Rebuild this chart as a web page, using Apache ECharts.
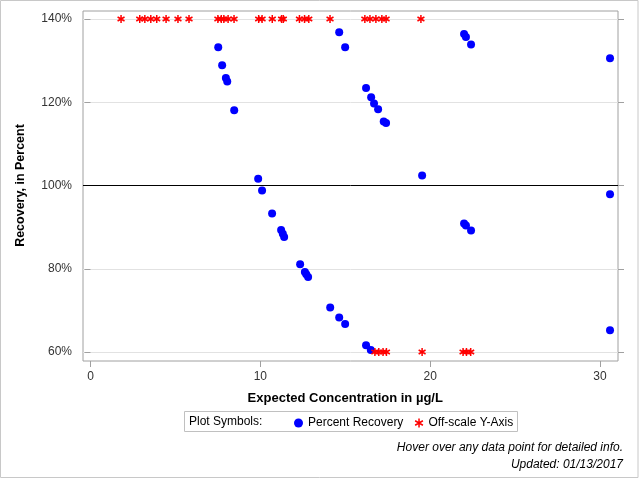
<!DOCTYPE html>
<html>
<head>
<meta charset="utf-8">
<title>Percent Recovery</title>
<script src="https://cdn.jsdelivr.net/npm/echarts@6/dist/echarts.min.js"></script>
<style>
  html, body { margin: 0; padding: 0; background: #fff; }
  #chart { width: 640px; height: 480px; }
</style>
</head>
<body>
<div id="chart"></div>
<script>
// expected concentration (ug/L) and percent recovery
var concX = [7.52, 7.75, 7.97, 8.05, 8.46, 9.87, 10.1, 10.69, 11.22, 11.32, 11.4,
  12.34, 12.62, 12.7, 12.81, 14.11, 14.64, 14.99, 14.64, 14.99, 16.22, 16.52,
  16.69, 16.93, 17.26, 17.4, 16.22, 16.5, 19.52, 21.99, 22.1, 22.4, 21.99, 22.1,
  22.4, 30.58, 30.58, 30.58];
var recoveryPct = [133.2, 128.9, 125.8, 125.0, 118.1, 101.6, 98.8, 93.3, 89.3,
  88.4, 87.6, 81.1, 79.2, 78.7, 78.0, 70.7, 68.3, 66.7, 136.8, 133.2, 123.4,
  121.2, 119.7, 118.3, 115.4, 115.0, 61.6, 60.5, 102.4, 136.4, 135.7, 133.9,
  90.9, 90.4, 89.2, 130.6, 97.9, 65.2];

// off-scale results, drawn on the top / bottom edge
var offHighX = [1.8, 2.9, 3.2, 3.55, 3.9, 4.45, 5.15, 5.8, 7.5, 7.7, 7.85, 8.1,
  8.45, 9.9, 10.1, 10.7, 11.25, 11.35, 12.3, 12.6, 12.85, 14.1, 16.15, 16.45,
  16.8, 17.15, 17.4, 19.45];
var offLowX = [16.74, 16.97, 17.22, 17.42, 19.52, 21.93, 22.13, 22.38];
var OFF_TOP = 140;
var OFF_BOTTOM = 60;

var yTicks = [60, 80, 100, 120, 140];
var xTicks = [0, 10, 20, 30];

var FONT = "'Liberation Sans', Arial, sans-serif";
var STAR = "path://M5 0 L5 10 M0.67 2.5 L9.33 7.5 M0.67 7.5 L9.33 2.5";

var myChart = echarts.init(document.getElementById("chart"));

var recoveryData = concX.map(function (x, i) { return [x, recoveryPct[i]]; });
var offData = offHighX.map(function (x) { return [x, OFF_TOP]; })
  .concat(offLowX.map(function (x) { return [x, OFF_BOTTOM]; }));

var option = {
  animation: false,
  textStyle: { fontFamily: FONT },
  grid: [
    // data area
    { left: 83, right: 22, top: 19, bottom: 128 },
    // frame
    { left: 83, right: 22, top: 11, bottom: 119, show: true,
      borderColor: "#a0a0a0", borderWidth: 1, backgroundColor: "transparent" },
    // x ticks 0..30
    { left: 90.5, right: 40, top: 19, bottom: 119 },
  ],
  xAxis: [
    { gridIndex: 0, type: "value", min: -0.44, max: 31.05, show: false },
    { gridIndex: 1, type: "value", show: false },
    {
      gridIndex: 2, type: "value",
      min: xTicks[0], max: xTicks[xTicks.length - 1], interval: 10,
      position: "bottom",
      name: "Expected Concentration in \u00b5g/L",
      nameLocation: "middle", nameGap: 31,
      nameTextStyle: { fontSize: 13, fontWeight: "bold", color: "#000", fontFamily: FONT },
      axisLine: { show: false },
      axisTick: { show: true, length: 6, lineStyle: { color: "#a0a0a0" } },
      axisLabel: { margin: 10, fontSize: 12, color: "#333", fontFamily: FONT },
      splitLine: { show: false },
    },
  ],
  yAxis: [
    {
      gridIndex: 0, type: "value",
      min: yTicks[0], max: yTicks[yTicks.length - 1], interval: 20,
      position: "left",
      name: "Recovery, in Percent",
      nameLocation: "middle", nameGap: 56, nameRotate: 90,
      nameTextStyle: { fontSize: 12.5, fontWeight: "bold", color: "#000", fontFamily: FONT },
      axisLine: { show: false },
      axisTick: { show: true, length: 6, lineStyle: { color: "#a0a0a0" } },
      axisLabel: { margin: 11, fontSize: 12, color: "#333", fontFamily: FONT,
        formatter: "{value}%" },
      splitLine: { show: true, lineStyle: { color: "#e2e2e2", width: 1 } },
    },
    {
      gridIndex: 0, type: "value",
      min: yTicks[0], max: yTicks[yTicks.length - 1], interval: 20,
      position: "right",
      axisLine: { show: false },
      axisTick: { show: true, length: 6, lineStyle: { color: "#a0a0a0" } },
      axisLabel: { show: false },
      splitLine: { show: false },
    },
    { gridIndex: 1, type: "value", show: false },
    { gridIndex: 2, type: "value", show: false },
  ],
  legend: {
    left: 289, top: 412,
    itemWidth: 9, itemHeight: 9, itemGap: 11,
    textStyle: { fontSize: 12, color: "#000", fontFamily: FONT },
    data: [
      { name: "Percent Recovery", icon: "circle" },
      { name: "Off-scale Y-Axis", icon: STAR,
        itemStyle: { color: "#ff0000", borderColor: "#ff0000", borderWidth: 1.5 } },
    ],
  },
  graphic: [
    { type: "rect", shape: { x: 0.5, y: 0.5, width: 637.5, height: 477 },
      style: { fill: "none", stroke: "#c8c8c8", lineWidth: 1 }, silent: true },
    { type: "rect", shape: { x: 184.5, y: 411.5, width: 333, height: 20 },
      style: { fill: "none", stroke: "#c0c0c0", lineWidth: 1 }, silent: true },
    { type: "text", left: 189, top: 416,
      style: { text: "Plot Symbols:", font: "12px " + FONT, fill: "#000" } },
    { type: "text", right: 17, top: 442,
      style: { text: "Hover over any data point for detailed info.",
        font: "italic 12px " + FONT, fill: "#000", align: "right" } },
    { type: "text", right: 17, top: 459,
      style: { text: "Updated: 01/13/2017",
        font: "italic 12px " + FONT, fill: "#000", align: "right" } },
  ],
  series: [
    {
      name: "Percent Recovery",
      type: "scatter",
      xAxisIndex: 0, yAxisIndex: 0,
      symbol: "circle",
      symbolSize: 8,
      itemStyle: { color: "#0000ff", opacity: 1 },
      data: recoveryData,
      z: 3,
      markLine: {
        silent: true,
        symbol: "none",
        label: { show: false },
        lineStyle: { color: "#000", width: 1, type: "solid" },
        data: [{ yAxis: 100 }],
      },
    },
    {
      name: "Off-scale Y-Axis",
      type: "scatter",
      xAxisIndex: 0, yAxisIndex: 0,
      symbol: STAR,
      symbolSize: 8,
      symbolKeepAspect: true,
      itemStyle: { color: "#ff0000", borderColor: "#ff0000", borderWidth: 1.5, opacity: 1 },
      data: offData,
      z: 4,
    },
  ],
};

myChart.setOption(option);
</script>
</body>
</html>
